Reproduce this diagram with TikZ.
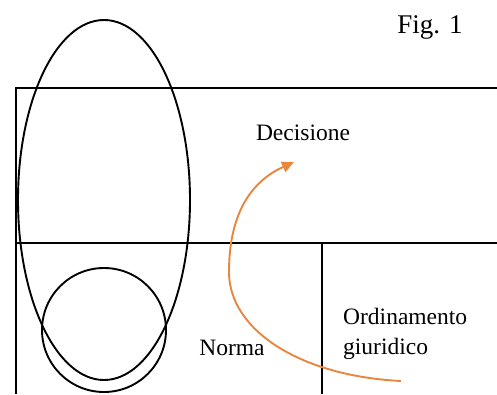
\documentclass[tikz,border=0pt]{standalone}
\usepackage{fontspec}
\setmainfont{Liberation Serif}
\usetikzlibrary{arrows.meta, positioning}

\begin{document}
\begin{tikzpicture}[x=1pt, y=-1pt,
    frame/.style={black, line width=2.2pt},
    outline/.style={black, line width=1.9pt},
    label/.style={font=\fontsize{23.5}{30}\selectfont, inner sep=0pt},
    flow/.style={draw={rgb,255:red,232;green,134;blue,62}, line width=1.9pt,
        -{Triangle[length=12pt, width=11pt]}}]
    \useasboundingbox (0,0) rectangle (497,394);

    % Frames
    \draw[frame] (16,394) -- (16,88) -- (497,88);
    \draw[frame] (16,243) -- (497,243);
    \draw[frame] (322,243) -- (322,394);

    % Ellipse and circle
    \draw[outline] (104,200) ellipse (86 and 180);
    \draw[outline] (104,330) circle (62);

    % Labels
    \node[font=\fontsize{27}{30}\selectfont, inner sep=0pt, anchor=base] (fig) at (430,33) {Fig. 1};
    \node[label, anchor=base] (decisione) at (303,140) {Decisione};
    \node[label, anchor=base] (norma) at (232,355) {Norma};
    \node[label, anchor=base west] (ordinamento) at (343,324) {Ordinamento};
    \node[label, anchor=base west] (giuridico) at (343,354) {giuridico};

    % Curved arrow
    \coordinate (start) at (401,381);
    \coordinate (tip) at (294,162);
    \draw[flow] (start) .. controls (300,376) and (229,330) .. (229,272)
        .. controls (229,215) and (250,182) .. (tip);
\end{tikzpicture}
\end{document}
